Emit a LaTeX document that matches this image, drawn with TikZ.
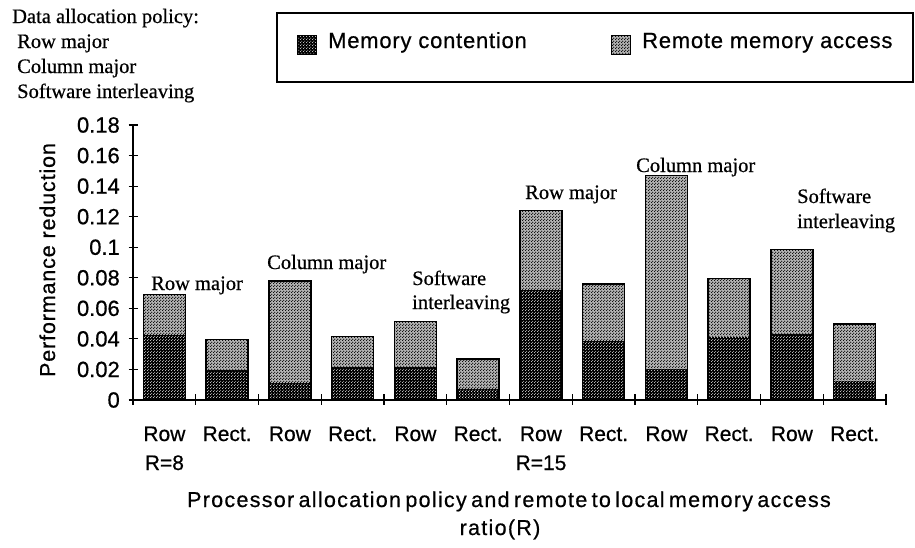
\documentclass[tikz,border=0pt]{standalone}
\usepackage{fontspec}
\setmainfont[FakeBold=0.6]{Liberation Serif}
\setsansfont[FakeBold=0.6]{Liberation Sans}
\newfontfamily\legendfont[LetterSpace=3.5,FakeBold=0.6]{Liberation Sans}
\newfontfamily\captionfont[LetterSpace=6,WordSpace=0.6,FakeBold=0.6]{Liberation Sans}
\newfontfamily\ylabelfont[LetterSpace=4,FakeBold=0.6]{Liberation Sans}
\usetikzlibrary{patterns}

% fine dot screens used for the two bar components
\pgfdeclarepatternformonly{contention dots}{\pgfpointorigin}{\pgfqpoint{3pt}{3pt}}{\pgfqpoint{3pt}{3pt}}{%
  \pgfpathcircle{\pgfqpoint{0.75pt}{0.75pt}}{0.62pt}%
  \pgfpathcircle{\pgfqpoint{2.25pt}{2.25pt}}{0.62pt}%
  \pgfusepath{fill}}
\pgfdeclarepatternformonly{remote dots}{\pgfpointorigin}{\pgfqpoint{3pt}{3pt}}{\pgfqpoint{3pt}{3pt}}{%
  \pgfpathcircle{\pgfqpoint{0.75pt}{0.75pt}}{0.75pt}%
  \pgfpathcircle{\pgfqpoint{2.25pt}{2.25pt}}{0.75pt}%
  \pgfusepath{fill}}

\tikzset{
  contention/.style={preaction={fill=black}, pattern=contention dots, pattern color=white},
  remote/.style={preaction={fill=black!30}, pattern=remote dots, pattern color=black},
  baredge/.style={draw=black, line width=1.4pt},
  axisline/.style={draw=black, line width=1.4pt},
  ticklabel/.style={font=\fontsize{22}{26}\selectfont\sffamily, inner sep=0pt},
  catlabel/.style={font=\fontsize{21}{24}\selectfont\sffamily, inner sep=0pt, anchor=base},
  note/.style={font=\fontsize{20.5}{25}\selectfont\rmfamily, inner sep=0pt, anchor=base west, align=left},
  legendtext/.style={font=\fontsize{22}{26}\selectfont\legendfont, inner sep=0pt, anchor=base west},
}

\begin{document}
\begin{tikzpicture}[x=1pt, y=-1pt]
\useasboundingbox (0,0) rectangle (915,547);

% ---- legend ----
\draw[line width=1.1pt] (277,13) rectangle (913,82);
\path[contention] (297,35) rectangle (316,54);
\draw[line width=0.6pt] (297,35) rectangle (316,54);
\node[legendtext] (legc) at (328,48) {Memory contention};
\path[remote] (611,35) rectangle (630,54);
\draw[line width=0.6pt] (611,35) rectangle (630,54);
\node[legendtext] (legr) at (642,48) {Remote memory access};

% ---- data allocation key ----
\node[note] (dap) at (12,23) {Data allocation policy:};
\node[note] (k1) at (17,48) {Row major};
\node[note] (k2) at (17,73) {Column major};
\node[note] (k3) at (17,98) {Software interleaving};

% ---- stacked bars: index / contention / total ----
\foreach \i/\lo/\hi in {1/0.0425/0.069, 2/0.0196/0.0397, 3/0.011/0.078,
                        4/0.0214/0.0415, 5/0.0214/0.0513, 6/0.0072/0.0268,
                        7/0.072/0.124, 8/0.0386/0.076, 9/0.020/0.1468,
                        10/0.0415/0.0796, 11/0.0432/0.0986, 12/0.0127/0.0497} {
  \pgfmathsetmacro\cx{133+62.75*(\i-0.5)}
  \pgfmathsetmacro\ylo{400-\lo*1527.8}
  \pgfmathsetmacro\yhi{400-\hi*1527.8}
  \path[contention] (\cx-21,400) rectangle (\cx+21,\ylo);
  \path[remote] (\cx-21,\ylo) rectangle (\cx+21,\yhi);
  \draw[baredge] (\cx-21,400) rectangle (\cx+21,\yhi);
}

% ---- axes ----
\draw[axisline] (133,125) -- (133,400) -- (886,400);
\foreach \k/\lab in {0/0, 1/0.02, 2/0.04, 3/0.06, 4/0.08, 5/0.1,
                     6/0.12, 7/0.14, 8/0.16, 9/0.18} {
  \pgfmathsetmacro\ty{400-\k*30.556}
  \draw[line width=1.2pt] (128.5,\ty) -- (137.5,\ty);
  \node[ticklabel, anchor=east] (yt\k) at (120,\ty) {\lab};
}
\foreach \k in {0,...,12} {
  \pgfmathsetmacro\tx{133+62.75*\k}
  \draw[line width=1.2pt] (\tx,394) -- (\tx,405);
}

% ---- category labels ----
\foreach \i/\lab in {1/Row, 2/Rect., 3/Row, 4/Rect., 5/Row, 6/Rect.,
                     7/Row, 8/Rect., 9/Row, 10/Rect., 11/Row, 12/Rect.} {
  \pgfmathsetmacro\cx{133+62.75*(\i-0.5)}
  \node[catlabel] (cat\i) at (\cx,441) {\lab};
}
\node[catlabel] (r8) at (164.4,470) {R=8};
\node[catlabel] (r15) at (541,470) {R=15};

% ---- bar group annotations ----
\node[note] (g1) at (151,290) {Row major};
\node[note] (g2) at (267,269) {Column major};
\node[note] (g3) at (412,285) {Software};
\node[note] (g3b) at (412,309) {interleaving};
\node[note] (g4) at (525,199) {Row major};
\node[note] (g5) at (636,172) {Column major};
\node[note] (g6) at (797,203) {Software};
\node[note] (g6b) at (797,228) {interleaving};

% ---- axis titles ----
\node[font=\fontsize{21.5}{26}\selectfont\ylabelfont, rotate=90, anchor=base, inner sep=0pt]
  (ytitle) at (55,260) {Performance reduction};
\node[font=\fontsize{21.5}{25}\selectfont\captionfont, anchor=base, inner sep=0pt]
  (xtitle1) at (509,507) {Processor allocation policy and remote to local memory access};
\node[font=\fontsize{21.5}{25}\selectfont\captionfont, anchor=base, inner sep=0pt]
  (xtitle2) at (500,535) {ratio(R)};
\end{tikzpicture}
\end{document}
